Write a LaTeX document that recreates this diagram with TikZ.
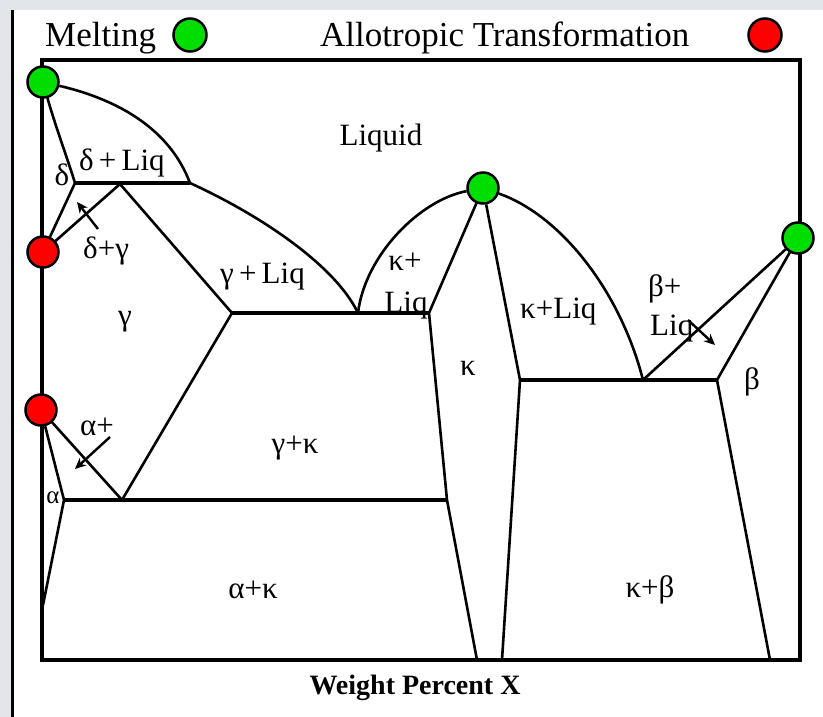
\documentclass[tikz,border=0pt]{standalone}
\usepackage{fontspec}
\setmainfont{Liberation Serif}
\usetikzlibrary{arrows.meta, positioning}
\definecolor{MeltGreen}{RGB}{0,222,0}
\definecolor{AlloRed}{RGB}{255,0,0}
\definecolor{PageGrey}{RGB}{226,229,233}

\begin{document}
\begin{tikzpicture}[x=1pt, y=-1pt,
        melt/.style={circle,draw=black,fill=MeltGreen,line width=2.5pt,
                     minimum size=31pt,inner sep=0pt},
        allo/.style={melt,fill=AlloRed},
        axisbox/.style={line width=4pt},
        tie/.style={line width=4pt},
        bd/.style={line width=2.6pt},
        ptr/.style={line width=2.4pt,-{Stealth[length=11pt,width=10pt]}},
        lbl/.style={font=\fontsize{31}{36}\selectfont,inner sep=0pt},
        lgd/.style={font=\fontsize{35}{40}\selectfont,inner sep=0pt,anchor=base west}
      ]
        \useasboundingbox (0,0) rectangle (823,717);
        \fill[PageGrey] (0,0) rectangle (823,717);
        \fill[white] (14,10) rectangle (823,717);
        \draw[line width=3pt] (12,10) -- (12,717);

        \node[lgd] (tMelt) at (45,47) {Melting};
        \node[melt,minimum size=33pt] (kMelt) at (190,35) {};
        \node[lgd] (tAllo) at (320,47) {Allotropic Transformation};
        \node[allo,minimum size=33pt] (kAllo) at (765,35) {};

        \draw[axisbox] (42,60) rectangle (800,660);

        \node[melt] (mA) at (43,82) {};
        \node[allo] (aD) at (43,252) {};
        \node[allo] (aG) at (41,410) {};
        \node[melt] (mK) at (483,188) {};
        \node[melt] (mB) at (798,238) {};

        \coordinate (pD) at (75,183);
        \coordinate (pA) at (120,184);
        \coordinate (pL) at (190,183);
        \coordinate (eG) at (232,313);
        \coordinate (eL) at (358,313);
        \coordinate (eK) at (429,313);
        \coordinate (dA) at (64,500);
        \coordinate (dG) at (122,500);
        \coordinate (dK) at (447,500);
        \coordinate (rK) at (520,380);
        \coordinate (rL) at (643,380);
        \coordinate (rB) at (717,380);
        \coordinate (aB) at (43,605);
        \coordinate (kL) at (477,660);
        \coordinate (kR) at (502,660);
        \coordinate (bB) at (770,660);

        \draw[bd] (mA) .. controls (120,100) and (170,130) .. (pL);
        \draw[bd] (pL) .. controls (260,215) and (335,265) .. (eL);
        \draw[bd] (mA) .. controls (55,125) and (68,160) .. (pD);
        \draw[bd] (pD) -- (aD); \draw[bd] (aD) -- (pA); \draw[bd] (pA) -- (eG);
        \draw[bd] (eL) .. controls (365,255) and (420,200) .. (mK);
        \draw[bd] (mK) -- (eK) -- (dK) -- (kL);
        \draw[bd] (mK) -- (rK) -- (kR);
        \draw[bd] (mK) .. controls (560,215) and (620,290) .. (rL);
        \draw[bd] (rL) -- (mB); \draw[bd] (mB) -- (rB) -- (bB);
        \draw[bd] (aG) -- (dA) -- (aB);
        \draw[bd] (aG) -- (dG) -- (eG);
        \draw[tie] (pD) -- (pL); \draw[tie] (eG) -- (eK);
        \draw[tie] (dA) -- (dK); \draw[tie] (rK) -- (rB);

        \coordinate (dgTail) at (98,229);  \coordinate (dgTip) at (77,202);
        \coordinate (agTail) at (110,437); \coordinate (agTip) at (75,469);
        \coordinate (blTail) at (688,320); \coordinate (blTip) at (715,345);
        \draw[ptr] (dgTail) -- (dgTip);
        \draw[ptr] (agTail) -- (agTip);
        \draw[ptr] (blTail) -- (blTip);

        \node[lbl,anchor=base] (lLiq) at (381,146) {Liquid};
        \node[lbl,anchor=base west] (lDL) at (79,171) {δ\,+\,Liq};
        \node[lbl,anchor=base] (lD) at (62,185) {δ};
        \node[lbl,anchor=base west] (lDG) at (83,258) {δ+γ};
        \node[lbl] (lG) at (125,322) {γ};
        \node[lbl,anchor=base west] (lGL) at (220,283) {γ\,+\,Liq};
        \node[lbl,anchor=base] (lKp) at (405,270) {κ+};
        \node[lbl,anchor=base] (lKL) at (406,312) {Liq};
        \node[lbl] (lK) at (468,368) {κ};
        \node[lbl,anchor=base west] (lKLr) at (520,318) {κ+Liq};
        \node[lbl,anchor=base west] (lBp) at (648,296) {β+};
        \node[lbl,anchor=base west] (lBL) at (650,335) {Liq};
        \node[lbl] (lB) at (752,382) {β};
        \node[lbl,anchor=base] (lGK) at (295,453) {γ+κ};
        \node[lbl,anchor=base west] (lAp) at (80,435) {α+};
        \node[lbl,font=\fontsize{25}{28}\selectfont] (lA) at (53,498) {α};
        \node[lbl,anchor=base] (lAK) at (253,598) {α+κ};
        \node[lbl] (lKB) at (650,590) {κ+β};
        \node[font=\bfseries\fontsize{28}{32}\selectfont,inner sep=0pt] (xLab) at (415,688) {Weight Percent X};
      \end{tikzpicture}
\end{document}
